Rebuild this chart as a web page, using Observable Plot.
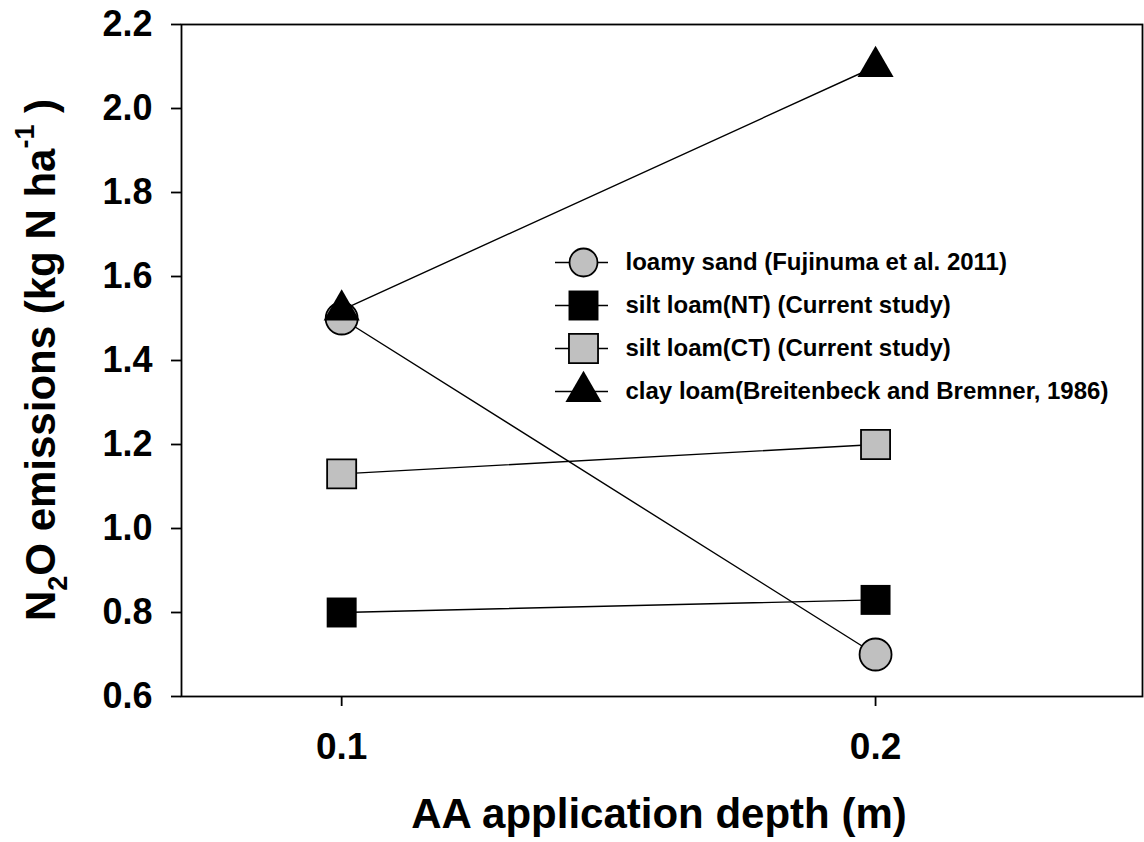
<!DOCTYPE html>
<html>
<head>
<meta charset="utf-8">
<script src="https://cdn.jsdelivr.net/npm/d3@7"></script>
<script src="https://cdn.jsdelivr.net/npm/@observablehq/plot@0.6"></script>
<style>
  body { margin: 0; background: #fff; }
  #wrap { position: relative; width: 1144px; height: 842px; }
  #legend { position: absolute; left: 540px; top: 220px; width: 580px; height: 200px; }
</style>
</head>
<body>
<div id="wrap"><div id="chart"></div><div id="legend"></div></div>
<script>
// ---- data ----
const depths = [0.1, 0.2];
const seriesNames = [
  "loamy sand (Fujinuma et al. 2011)",
  "silt loam(NT) (Current study)",
  "silt loam(CT) (Current study)",
  "clay loam(Breitenbeck and Bremner, 1986)"
];
const loamySand = [1.50, 0.70];
const siltLoamNT = [0.80, 0.83];
const siltLoamCT = [1.13, 1.20];
const clayLoam = [1.52, 2.10];
const yTicks = [0.6, 0.8, 1.0, 1.2, 1.4, 1.6, 1.8, 2.0, 2.2];
const xTicks = [0.1, 0.2];

// ---- styles ----
const seriesValues = [loamySand, siltLoamNT, siltLoamCT, clayLoam];
const seriesSymbols = [d3.symbolCircle, d3.symbolSquare, d3.symbolSquare, d3.symbolTriangle];
const seriesFills = ["#c0c0c0", "#000000", "#c0c0c0", "#000000"];
const seriesStrokes = ["#000000", "none", "#000000", "none"];
const seriesR = [16, 16.9, 16.4, 13.4];
const legendR = [14, 16.9, 16.4, 13.4];
const FONT = "'Liberation Sans', Arial, Helvetica, sans-serif";

const rows = seriesNames.flatMap((s, i) =>
  depths.map((d, j) => ({series: s, depth: d, value: seriesValues[i][j]})));

const marks = [
  Plot.frame({stroke: "black", strokeWidth: 1.8}),
  Plot.axisY({ticks: yTicks, tickSize: 10, tickPadding: 19, tickFormat: d3.format(".1f"),
    fontSize: 36, fontWeight: "bold", label: null, strokeWidth: 1.8}),
  Plot.axisX({ticks: xTicks, tickSize: 10, tickPadding: 26, tickFormat: d3.format(".1f"),
    fontSize: 37, fontWeight: "bold", label: null, strokeWidth: 1.8})
];
seriesNames.forEach((s, i) => {
  const data = rows.filter(r => r.series === s);
  marks.push(Plot.line(data, {x: "depth", y: "value", stroke: "black", strokeWidth: 1.4}));
  marks.push(Plot.dot(data, {x: "depth", y: "value", symbol: seriesSymbols[i], r: seriesR[i],
    fill: seriesFills[i], stroke: seriesStrokes[i], strokeWidth: 1.8, fillOpacity: 1}));
});

const chart = Plot.plot({
  width: 1144, height: 842,
  marginLeft: 181, marginRight: 2, marginTop: 24, marginBottom: 146,
  x: {domain: [0.07, 0.25]},
  y: {domain: [0.6, 2.2]},
  style: {fontFamily: FONT, fontWeight: "bold", fontSize: "36px", background: "white", color: "black", overflow: "visible"},
  marks
});
document.getElementById("chart").appendChild(chart);

const svg = d3.select(chart);
// X title
svg.append("text")
  .attr("x", 659).attr("y", 828)
  .attr("text-anchor", "middle")
  .attr("font-family", FONT).attr("font-weight", "bold").attr("font-size", 42)
  .attr("fill", "black")
  .text("AA application depth (m)");
// Y title with sub/superscripts
const yt = svg.append("text")
  .attr("transform", "translate(55,360) rotate(-90)")
  .attr("text-anchor", "middle")
  .attr("font-family", FONT).attr("font-weight", "bold").attr("font-size", 42)
  .attr("fill", "black");
yt.append("tspan").text("N");
yt.append("tspan").attr("dy", 12).attr("font-size", 27).text("2");
yt.append("tspan").attr("dy", -12).text("O emissions (kg N ha");
yt.append("tspan").attr("dy", -21).attr("font-size", 27).text("-1");
yt.append("tspan").attr("dy", 21).text(" )");

// ---- legend (inside plot area) ----
const legendMarks = [];
seriesNames.forEach((s, i) => {
  legendMarks.push(Plot.ruleY([s], {y: d => d, x1: 15, x2: 68, stroke: "black", strokeWidth: 1.4}));
  legendMarks.push(Plot.dot([s], {y: d => d, x: 43, symbol: seriesSymbols[i], r: legendR[i],
    fill: seriesFills[i], stroke: seriesStrokes[i], strokeWidth: 1.8}));
  legendMarks.push(Plot.text([s], {y: d => d, x: 85, text: d => d, textAnchor: "start",
    fontSize: 24, fontWeight: "bold", fill: "black"}));
});
const legend = Plot.plot({
  width: 580, height: 200, margin: 0,
  x: {type: "identity", axis: null},
  y: {type: "point", domain: seriesNames, range: [42, 171], padding: 0, axis: null},
  style: {fontFamily: FONT, fontWeight: "bold", background: "transparent", overflow: "visible"},
  marks: legendMarks
});
document.getElementById("legend").appendChild(legend);
</script>
</body>
</html>
